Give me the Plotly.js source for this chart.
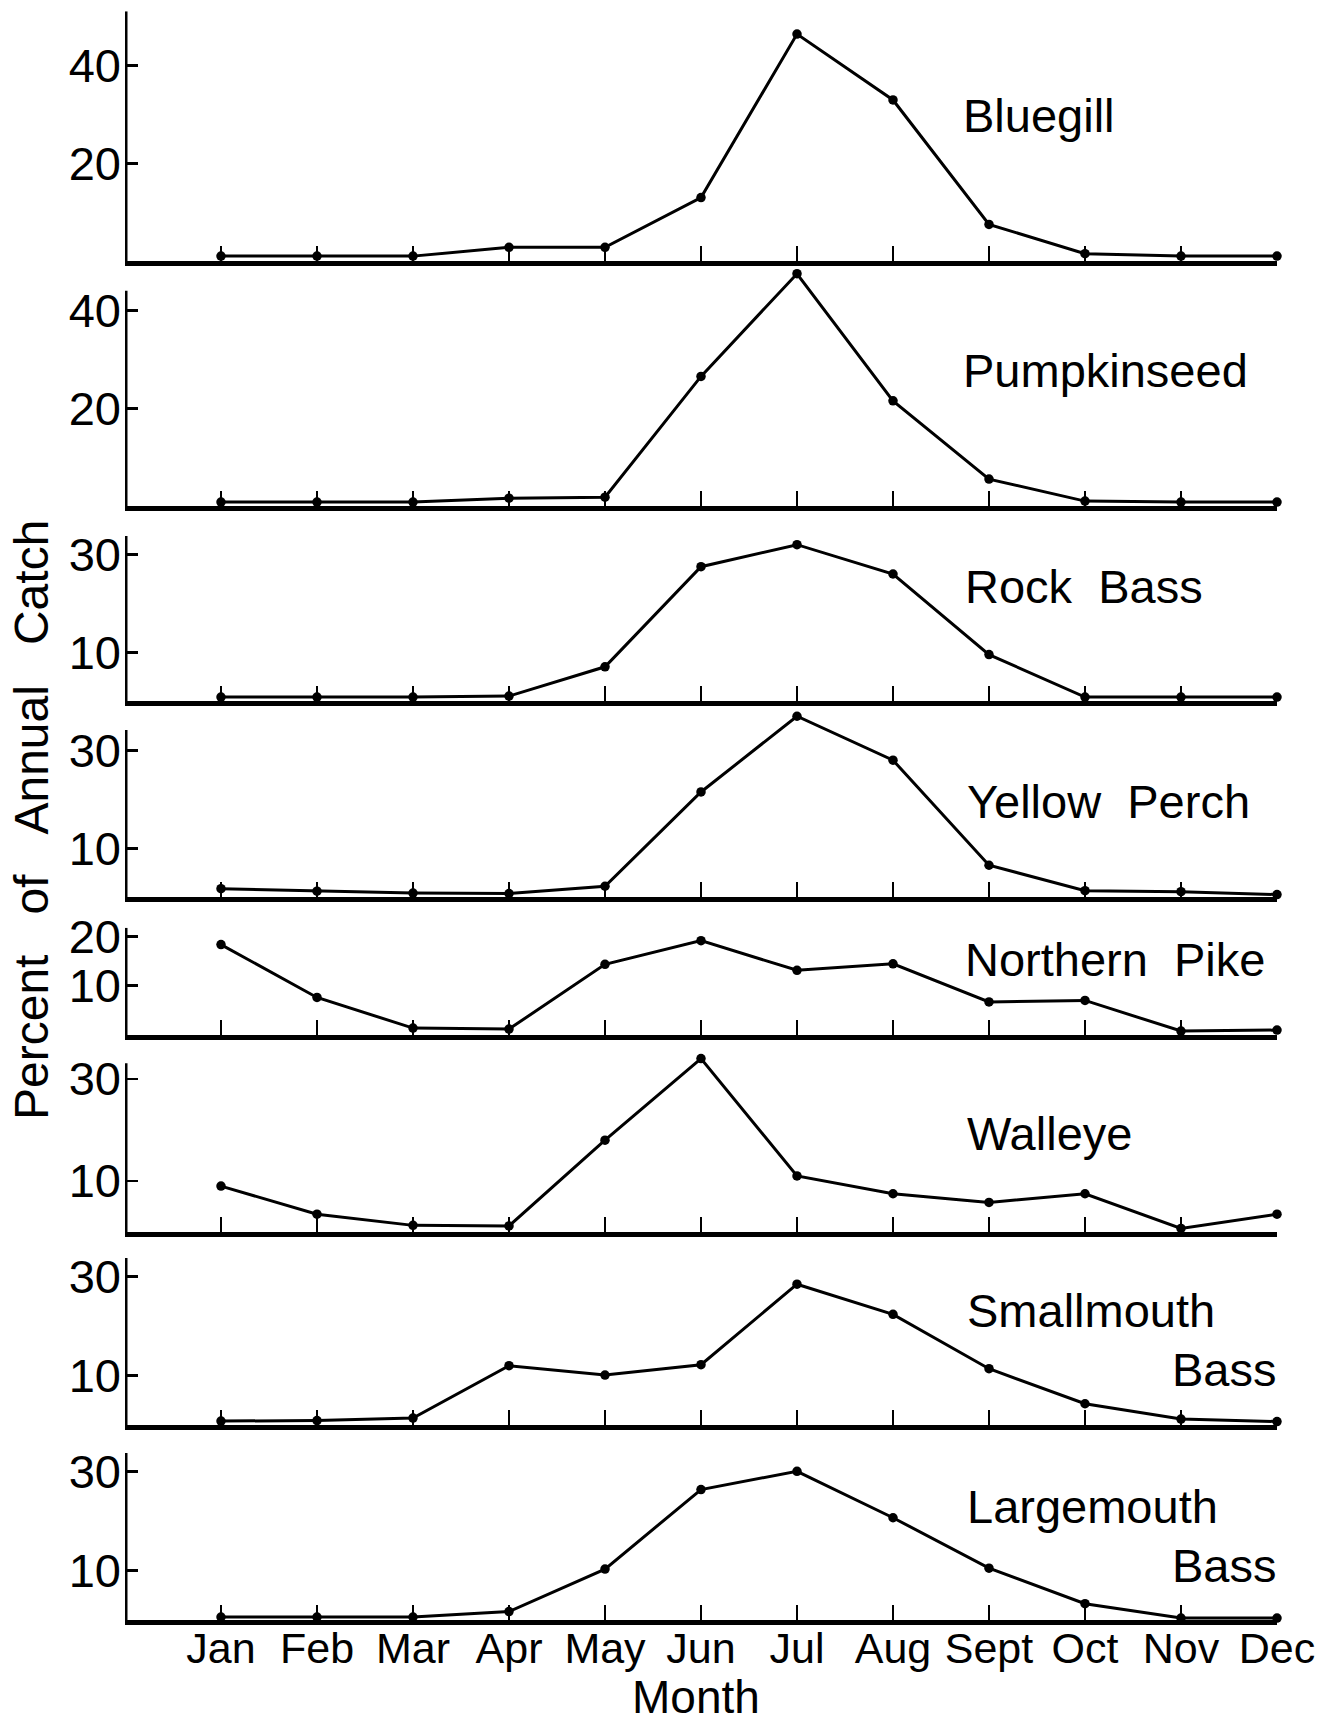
<!DOCTYPE html>
<html>
<head>
<meta charset="utf-8">
<script src="https://cdn.plot.ly/plotly-3.0.1.min.js"></script>
<style>
  html, body { margin: 0; padding: 0; background: #ffffff; }
  #chart { width: 1322px; height: 1722px; }
</style>
</head>
<body>
<div id="chart"></div>
<script>
// Monthly share of the annual catch (%) for eight fish species.
const months = ['Jan', 'Feb', 'Mar', 'Apr', 'May', 'Jun', 'Jul', 'Aug', 'Sept', 'Oct', 'Nov', 'Dec'];

const bluegill      = [1.0, 1.0, 1.0, 2.8, 2.8, 13.0, 46.5, 33.0, 7.5, 1.5, 1.0, 1.0];
const pumpkinseed   = [0.8, 0.8, 0.8, 1.6, 1.8, 26.5, 47.5, 21.5, 5.5, 1.0, 0.8, 0.8];
const rockBass      = [0.8, 0.8, 0.8, 1.0, 7.0, 27.5, 32.0, 26.0, 9.5, 0.8, 0.8, 0.8];
const yellowPerch   = [1.7, 1.2, 0.8, 0.7, 2.2, 21.5, 37.0, 28.0, 6.5, 1.3, 1.1, 0.5];
const northernPike  = [18.3, 7.6, 1.4, 1.2, 14.3, 19.1, 13.1, 14.4, 6.7, 7.0, 0.8, 1.0];
const walleye       = [9.0, 3.5, 1.3, 1.2, 18.0, 34.0, 11.0, 7.5, 5.8, 7.5, 0.7, 3.5];
const smallmouth    = [0.8, 0.9, 1.4, 12.0, 10.1, 12.2, 28.5, 22.4, 11.4, 4.3, 1.2, 0.7];
const largemouth    = [0.6, 0.6, 0.6, 1.7, 10.3, 26.4, 30.1, 20.7, 10.5, 3.3, 0.4, 0.4];

const seriesValues = [bluegill, pumpkinseed, rockBass, yellowPerch, northernPike, walleye, smallmouth, largemouth];
const seriesNames  = ['Bluegill', 'Pumpkinseed', 'Rock Bass', 'Yellow Perch', 'Northern Pike', 'Walleye', 'Smallmouth Bass', 'Largemouth Bass'];
const yTickValues  = [[20, 40], [20, 40], [10, 30], [10, 30], [10, 20], [10, 30], [10, 30], [10, 30]];

// Panel geometry (pixels from the top of the page) and axis extents.
const W = 1322, H = 1722;
const ML = 125, MR = 45;
const zeroPx   = [261, 506, 701, 897, 1035, 1232, 1425, 1620];
const unitPx   = [4.88, 4.89, 4.885, 4.885, 4.94, 5.1, 4.94, 4.94];
const spineTop = [51.2, 44.0, 33.8, 34.2, 21.7, 33.1, 33.8, 33.8];
const rangeTop = [51.2, 49.0, 33.8, 38.6, 21.7, 35.5, 33.8, 33.8];

// Species labels: [left px, centre px, text, anchor]
const labelSpots = [
  [961, 115, 'Bluegill', 'left'],
  [961, 370, 'Pumpkinseed', 'left'],
  [963, 586, 'Rock\u00a0\u00a0Bass', 'left'],
  [965, 802, 'Yellow\u00a0\u00a0Perch', 'left'],
  [963, 959, 'Northern\u00a0\u00a0Pike', 'left'],
  [965, 1133, 'Walleye', 'left'],
  [965, 1310, 'Smallmouth', 'left'],
  [1279, 1369, 'Bass', 'right'],
  [965, 1506, 'Largemouth', 'left'],
  [1279, 1565, 'Bass', 'right']
];

const FONT = 'Liberation Sans, Arial, Helvetica, sans-serif';
const px2x = p => (p - ML) / (W - ML - MR);
const px2y = p => (H - p) / H;

const monthPos = months.map((m, i) => i + 1);

const traces = [];
const layout = {
  width: W, height: H,
  margin: {l: ML, r: MR, t: 0, b: 0, pad: 0},
  paper_bgcolor: '#ffffff',
  plot_bgcolor: 'rgba(0,0,0,0)',
  showlegend: false,
  font: {family: FONT, color: '#000000', size: 44},
  shapes: [],
  annotations: []
};

seriesValues.forEach((vals, i) => {
  const n = i + 1;
  const xa = n === 1 ? 'x' : 'x' + n;
  const ya = n === 1 ? 'y' : 'y' + n;
  const xKey = n === 1 ? 'xaxis' : 'xaxis' + n;
  const yKey = n === 1 ? 'yaxis' : 'yaxis' + n;
  const last = n === seriesValues.length;

  traces.push({
    type: 'scatter', mode: 'lines+markers',
    name: seriesNames[i],
    x: monthPos, y: vals,
    xaxis: xa, yaxis: ya,
    line: {color: '#000000', width: 3},
    marker: {color: '#000000', size: 9.5},
    cliponaxis: false,
    hoverinfo: 'skip'
  });

  const bottom = zeroPx[i];
  const top = zeroPx[i] - rangeTop[i] * unitPx[i];

  layout[xKey] = {
    domain: [0, 1],
    anchor: ya,
    range: [0, 12],
    showgrid: false, zeroline: false,
    showline: true, linecolor: '#000000', linewidth: 5,
    ticks: 'inside', ticklen: 15, tickwidth: 2.4, tickcolor: '#000000',
    tickmode: 'array', tickvals: monthPos, ticktext: months,
    showticklabels: last,
    tickfont: {family: FONT, size: 43, color: '#000000'},
    ticklabelstandoff: -14,
    automargin: false,
    fixedrange: true
  };
  if (n > 1) layout[xKey].matches = 'x';

  layout[yKey] = {
    domain: [px2y(bottom), px2y(top)],
    anchor: xa,
    range: [0, rangeTop[i]],
    showgrid: false, zeroline: false,
    showline: false,
    ticks: 'inside', ticklen: 13, tickwidth: 2.8, tickcolor: '#000000',
    tickmode: 'array', tickvals: yTickValues[i],
    tickfont: {family: FONT, size: 47, color: '#000000'},
    ticklabelstandoff: 3,
    automargin: false,
    fixedrange: true
  };

  // Vertical axis spine, stopping at the panel's own top
  layout.shapes.push({
    type: 'line', xref: xa, yref: ya,
    x0: 0, x1: 0, y0: -0.5, y1: spineTop[i],
    line: {color: '#000000', width: 5},
    layer: 'above'
  });
});

labelSpots.forEach(([lx, ly, txt, anchor]) => {
  layout.annotations.push({
    xref: 'paper', yref: 'paper',
    x: px2x(lx), y: px2y(ly),
    xanchor: anchor, yanchor: 'middle',
    text: txt, showarrow: false,
    font: {family: FONT, size: 47, color: '#000000'}
  });
});

// Shared axis titles
layout.annotations.push({
  xref: 'paper', yref: 'paper',
  x: px2x(31), y: px2y(820),
  xanchor: 'center', yanchor: 'middle',
  text: 'Percent\u00a0\u00a0\u00a0of\u00a0\u00a0\u00a0Annual\u00a0\u00a0\u00a0Catch',
  textangle: -90, showarrow: false,
  font: {family: FONT, size: 48, color: '#000000'}
});
layout.annotations.push({
  xref: 'paper', yref: 'paper',
  x: px2x(696), y: px2y(1697),
  xanchor: 'center', yanchor: 'middle',
  text: 'Month', showarrow: false,
  font: {family: FONT, size: 46, color: '#000000'}
});

Plotly.newPlot('chart', traces, layout, {staticPlot: true, displayModeBar: false});
</script>
</body>
</html>
